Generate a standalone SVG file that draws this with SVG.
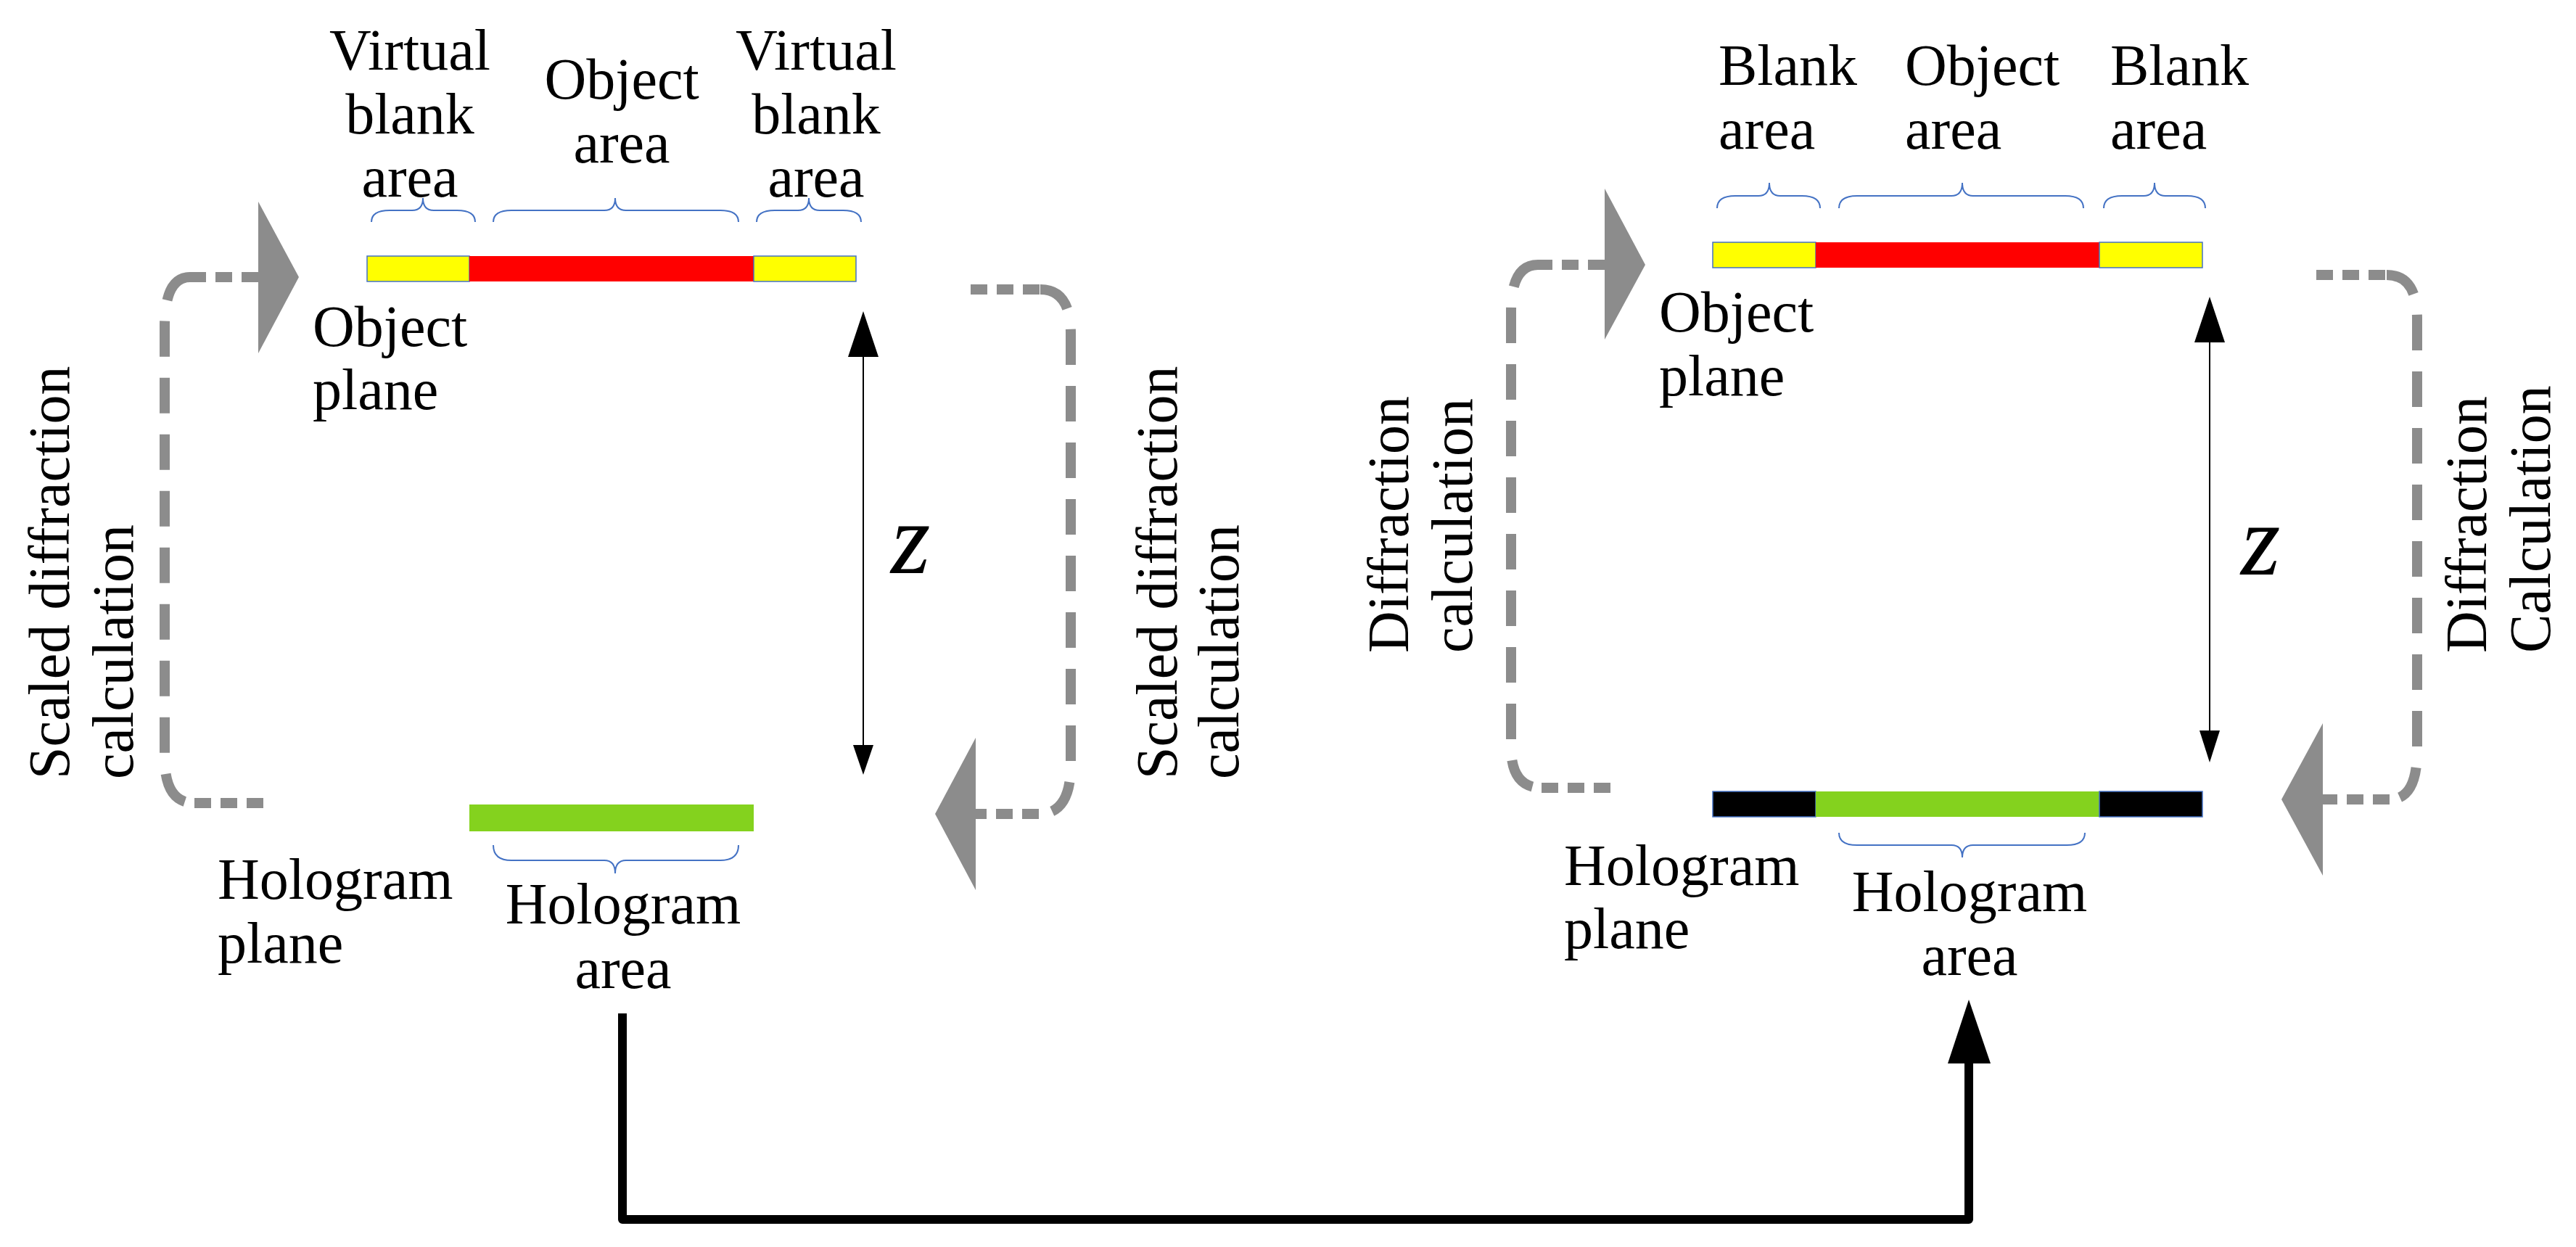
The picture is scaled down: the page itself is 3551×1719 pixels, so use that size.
<svg xmlns="http://www.w3.org/2000/svg" width="3551" height="1719" viewBox="0 0 3551 1719">
<style>
text{font-family:"Liberation Serif","Times New Roman",serif;font-size:80px;fill:#000}
.c{text-anchor:middle}
.z{font-style:italic;font-size:140px}
.br{fill:none;stroke:#4472C4;stroke-width:2}
.dv{fill:none;stroke:#8C8C8C;stroke-width:14;stroke-dasharray:49 29}
.dh{fill:none;stroke:#8C8C8C;stroke-width:14;stroke-dasharray:23 13}
.ga{fill:#8C8C8C}
.ol{stroke:#4472C4;stroke-width:1.5}
.thin{stroke:#000;stroke-width:2;fill:none}
</style>
<rect width="3551" height="1719" fill="#fff"/>

<!-- LEFT PANEL -->
<g id="left-object-plane">
<rect x="506" y="353" width="141" height="35" fill="#FFFF00" class="ol"/>
<rect x="647" y="353" width="392" height="35" fill="#FF0000"/>
<rect x="1039" y="353" width="141" height="35" fill="#FFFF00" class="ol"/>
<text x="431" y="477">Object</text>
<text x="431" y="564">plane</text>
</g>
<g id="left-virtual-blank-1">
<path class="br" d="M512 306 Q512 290 537 290 H568 Q583 290 583 273 Q583 290 598 290 H630 Q655 290 655 306"/>
<text class="c" x="565" y="96">Virtual</text>
<text class="c" x="565" y="184">blank</text>
<text class="c" x="565" y="271">area</text>
</g>
<g id="left-object-area">
<path class="br" d="M680 306 Q680 290 705 290 H833 Q848 290 848 273 Q848 290 863 290 H993 Q1018 290 1018 306"/>
<text class="c" x="857" y="136">Object</text>
<text class="c" x="857" y="224">area</text>
</g>
<g id="left-virtual-blank-2">
<path class="br" d="M1043 306 Q1043 290 1068 290 H1100 Q1115 290 1115 273 Q1115 290 1130 290 H1162 Q1187 290 1187 306"/>
<text class="c" x="1125" y="96">Virtual</text>
<text class="c" x="1125" y="184">blank</text>
<text class="c" x="1125" y="271">area</text>
</g>
<g id="left-hologram-plane">
<rect x="647" y="1109" width="392" height="37" fill="#84D21E"/>
<text x="300" y="1239">Hologram</text>
<text x="300" y="1327">plane</text>
</g>
<g id="left-hologram-area">
<path class="br" d="M680 1165 Q680 1186 705 1186 H833 Q848 1186 848 1204 Q848 1186 863 1186 H993 Q1018 1186 1018 1165"/>
<text class="c" x="859" y="1273">Hologram</text>
<text class="c" x="859" y="1362">area</text>
</g>
<g id="left-label-scaled-1">
<text transform="translate(95,1074) rotate(-90)"><tspan x="0" y="0">Scaled diffraction</tspan><tspan x="0" y="88">calculation</tspan></text>
</g>
<g id="left-label-scaled-2">
<text transform="translate(1622,1074) rotate(-90)"><tspan x="0" y="0">Scaled diffraction</tspan><tspan x="0" y="85">calculation</tspan></text>
</g>
<g id="left-z-label">
<text class="z" x="1228" y="790">z</text>
</g>

<!-- RIGHT PANEL -->
<g id="right-object-plane">
<rect x="2361" y="334" width="142" height="35" fill="#FFFF00" class="ol"/>
<rect x="2503" y="334" width="391" height="35" fill="#FF0000"/>
<rect x="2894" y="334" width="142" height="35" fill="#FFFF00" class="ol"/>
<text x="2287" y="457">Object</text>
<text x="2287" y="545">plane</text>
</g>
<g id="right-blank-1">
<path class="br" d="M2367 287 Q2367 270 2392 270 H2424 Q2439 270 2439 252 Q2439 270 2454 270 H2484 Q2509 270 2509 287"/>
<text x="2369" y="117">Blank</text>
<text x="2369" y="205">area</text>
</g>
<g id="right-object-area">
<path class="br" d="M2535 287 Q2535 270 2560 270 H2690 Q2705 270 2705 252 Q2705 270 2720 270 H2847 Q2872 270 2872 287"/>
<text x="2626" y="117">Object</text>
<text x="2626" y="205">area</text>
</g>
<g id="right-blank-2">
<path class="br" d="M2900 287 Q2900 270 2925 270 H2955 Q2970 270 2970 252 Q2970 270 2985 270 H3015 Q3040 270 3040 287"/>
<text x="2909" y="117">Blank</text>
<text x="2909" y="205">area</text>
</g>
<g id="right-hologram-plane">
<rect x="2361" y="1091" width="142" height="35" fill="#000" class="ol"/>
<rect x="2503" y="1091" width="391" height="35" fill="#84D21E"/>
<rect x="2894" y="1091" width="142" height="35" fill="#000" class="ol"/>
<text x="2156" y="1220">Hologram</text>
<text x="2156" y="1307">plane</text>
</g>
<g id="right-hologram-area">
<path class="br" d="M2535 1148 Q2535 1165 2560 1165 H2690 Q2705 1165 2705 1182 Q2705 1165 2720 1165 H2849 Q2874 1165 2874 1148"/>
<text class="c" x="2715" y="1256">Hologram</text>
<text class="c" x="2715" y="1344">area</text>
</g>
<g id="right-label-diff-1">
<text transform="translate(1941,900) rotate(-90)"><tspan x="0" y="0">Diffraction</tspan><tspan x="0" y="88">calculation</tspan></text>
</g>
<g id="right-label-diff-2">
<text transform="translate(3427,900) rotate(-90)"><tspan x="0" y="0">Diffraction</tspan><tspan x="0" y="88">Calculation</tspan></text>
</g>
<g id="right-z-label">
<text class="z" x="3089" y="792">z</text>
</g>

<!-- CONNECTORS -->
<g id="connectors">
<!-- left panel: hologram -> object (left bracket) -->
<path class="dh" d="M356 382 H262"/>
<path class="dv" d="M262 382 Q227 382 227 450 V1045 Q227 1107 268 1107"/>
<path class="dh" d="M268 1107 H365"/>
<polygon class="ga" points="356,278 412,382 356,487"/>
<!-- left panel: object -> hologram (right bracket) -->
<path class="dh" d="M1338 399 H1434"/>
<path class="dv" d="M1434 399 Q1476 399 1476 460 V1055 Q1476 1122 1432 1122"/>
<path class="dh" d="M1432 1122 H1345"/>
<polygon class="ga" points="1345,1017 1289,1122 1345,1227"/>
<!-- left panel z arrow -->
<line class="thin" x1="1190" y1="490" x2="1190" y2="1030"/>
<polygon points="1190,429 1169,492 1211,492"/>
<polygon points="1190,1068 1176,1027 1204,1027"/>

<!-- right panel: hologram -> object (left bracket) -->
<path class="dh" d="M2212 365 H2120"/>
<path class="dv" d="M2120 365 Q2083 365 2083 430 V1030 Q2083 1086 2125 1086"/>
<path class="dh" d="M2125 1086 H2221"/>
<polygon class="ga" points="2212,260 2268,365 2212,468"/>
<!-- right panel: object -> hologram (right bracket) -->
<path class="dh" d="M3193 379 H3290"/>
<path class="dv" d="M3290 379 Q3332 379 3332 440 V1035 Q3332 1102 3294 1102"/>
<path class="dh" d="M3294 1102 H3202"/>
<polygon class="ga" points="3202,997 3145,1102 3202,1207"/>
<!-- right panel z arrow -->
<line class="thin" x1="3046" y1="470" x2="3046" y2="1010"/>
<polygon points="3046,409 3025,472 3067,472"/>
<polygon points="3046,1051 3032,1007 3060,1007"/>

<!-- bottom link: left hologram -> right hologram -->
<path d="M858 1397 V1681 H2714 V1460" fill="none" stroke="#000" stroke-width="12" stroke-linejoin="round"/>
<polygon points="2714,1378 2685,1466 2744,1466"/>
</g>
</svg>
